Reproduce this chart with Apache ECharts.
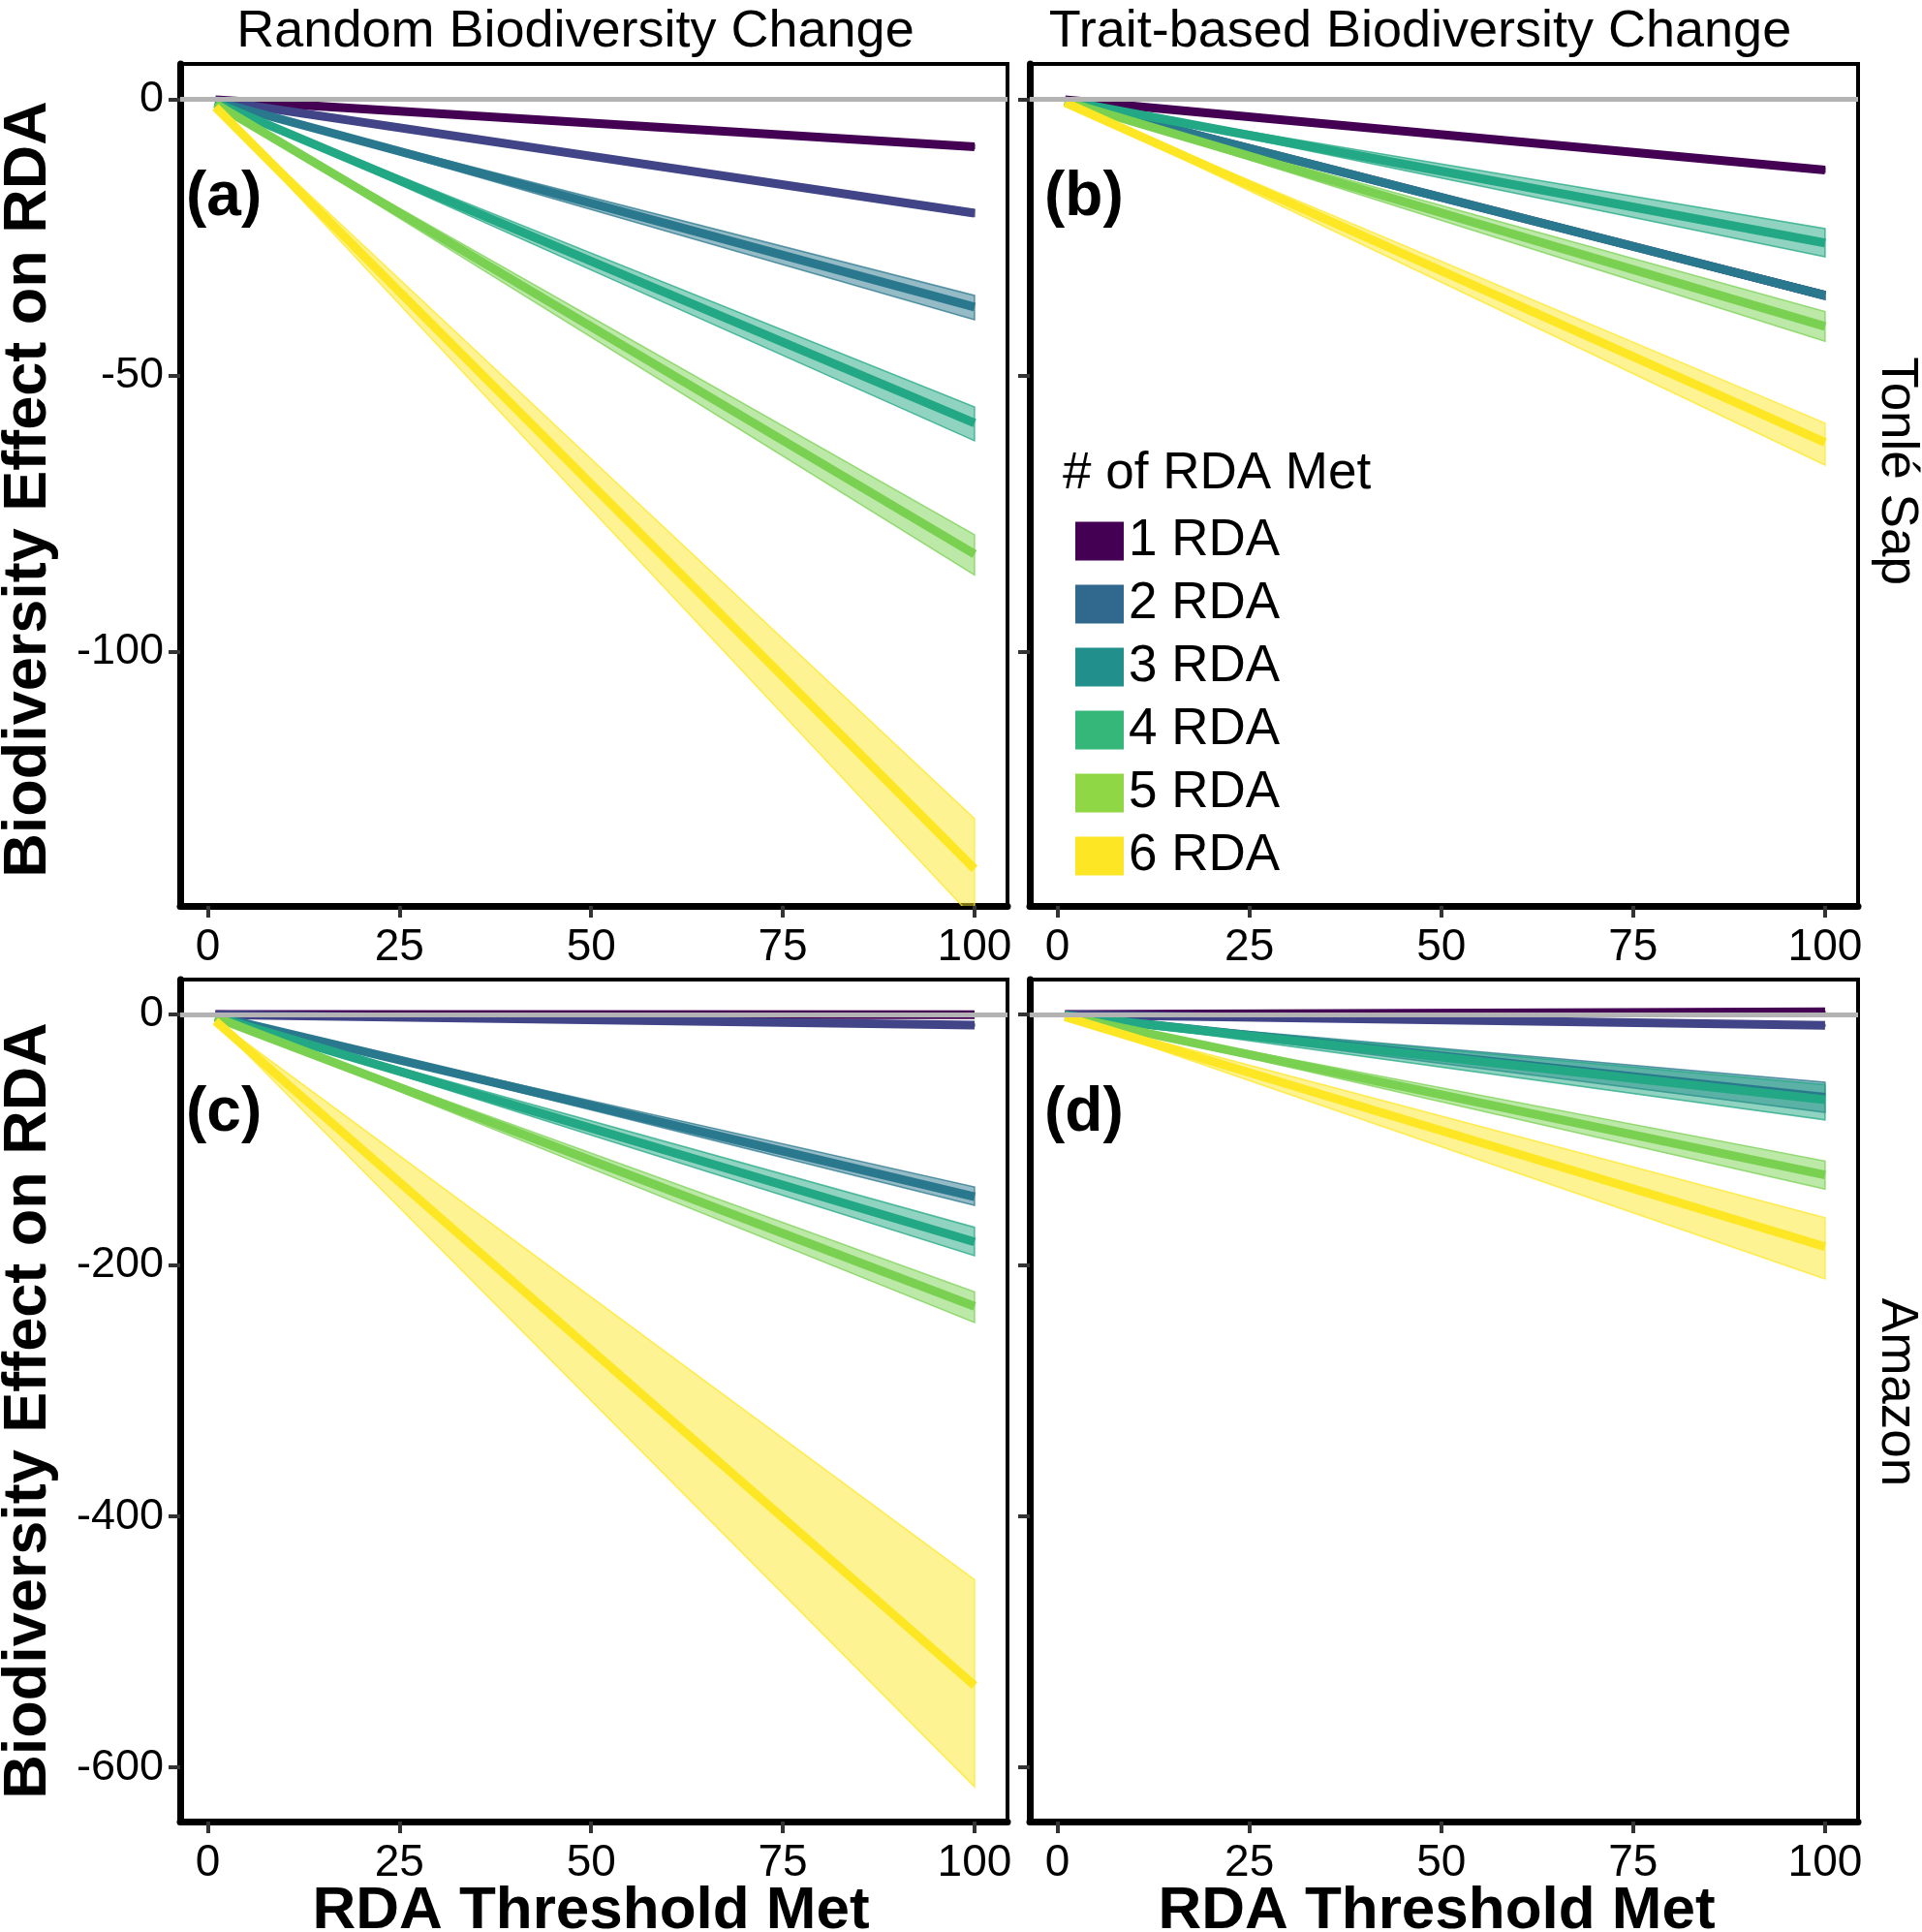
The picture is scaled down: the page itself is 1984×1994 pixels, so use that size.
<!DOCTYPE html>
<html><head><meta charset="utf-8">
<script src="https://cdn.jsdelivr.net/npm/echarts@6/dist/echarts.min.js"></script>
<style>html,body{margin:0;padding:0;background:#fff}#c{width:1984px;height:1994px}</style>
</head><body><div id="c"></div>
<script>
// ---------- data ----------
const seriesNames = ['1 RDA','2 RDA','3 RDA','4 RDA','5 RDA','6 RDA'];
const lineColors = ['#440154','#414487','#2A788E','#22A884','#7AD151','#FDE725'];
const legendColors = ['#440154','#31688E','#21908C','#35B779','#8FD744','#FDE725'];
const xEnds = [1, 100];                 // RDA threshold met at the two ends of each fitted line
const xTicks = [0, 25, 50, 75, 100];
const yTicksTop = [0, -50, -100];
const yTicksBottom = [0, -200, -400, -600];
const colTitles = ['Random Biodiversity Change', 'Trait-based Biodiversity Change'];
const rowTitles = ['Tonlé Sap', 'Amazon'];
const panelLabels = ['(a)', '(b)', '(c)', '(d)'];

// fitted value at x=1 and x=100, per series (1..6 RDA)
const aLine = [[-0.1,-8.6],[-0.2,-20.6],[-0.4,-37.6],[-0.6,-58.6],[-0.8,-82.3],[-1.4,-139.3]];
const bLine = [[-0.1,-12.8],[-0.35,-35.5],[-0.35,-35.5],[-0.26,-26.0],[-0.4,-41.1],[-0.6,-62.1]];
const cLine = [[0,-0.2],[-0.1,-8.5],[-1.45,-145.2],[-1.8,-181.2],[-2.3,-232.6],[-5.3,-534.8]];
const dLine = [[0,2.1],[-0.1,-8.6],[-0.7,-66.0],[-0.7,-68.0],[-1.3,-127.9],[-1.9,-185.1]];
// confidence band: [low at x=1, high at x=1, low at x=100, high at x=100]
const aBand = [[-0.1,-0.1,-8.9,-8.3],[-0.2,-0.2,-21.2,-20.0],[-0.4,-0.35,-39.9,-35.5],[-0.6,-0.55,-61.8,-55.7],[-0.85,-0.8,-86.1,-78.8],[-1.5,-1.3,-148.4,-130.2]];
const bBand = [[-0.1,-0.1,-13.2,-12.4],[-0.36,-0.34,-36.2,-34.8],[-0.36,-0.34,-36.2,-34.8],[-0.28,-0.23,-28.5,-23.4],[-0.43,-0.38,-43.8,-38.4],[-0.66,-0.58,-66.2,-58.6]];
const cBand = [[0,0,-0.6,0.2],[-0.1,-0.1,-9.2,-7.8],[-1.5,-1.4,-152.1,-137.4],[-1.9,-1.7,-192.2,-169.6],[-2.4,-2.2,-245.5,-221.1],[-6.1,-4.5,-615.4,-450.4]];
const dBand = [[0,0,1.8,2.4],[-0.1,-0.1,-9.2,-8.0],[-0.8,-0.55,-78.0,-54.0],[-0.85,-0.55,-84.0,-56.0],[-1.4,-1.2,-139.2,-116.8],[-2.1,-1.6,-210.8,-161.9]];

// ---------- layout ----------
const FONT = '"Liberation Sans", Arial, sans-serif';
const grids = [
  {left:186, top:66, width:854, height:869},
  {left:1063, top:66, width:855, height:869},
  {left:186, top:1011, width:854, height:869},
  {left:1063, top:1011, width:855, height:869}
];
const xRange = [-3.6, 104.3];
const yRangeTop = [-146.0, 6.4];
const yRangeBottom = [-643.1, 27.8];

function hexA(hex, a){
  const n = parseInt(hex.slice(1),16);
  return 'rgba('+((n>>16)&255)+','+((n>>8)&255)+','+(n&255)+','+a+')';
}

const xAxes = grids.map((g,i)=>({
  type:'value', gridIndex:i, min:xRange[0], max:xRange[1],
  axisLine:{show:true, onZero:false, lineStyle:{color:'#000', width:7}},
  axisTick:{show:true, customValues:xTicks, length:12, lineStyle:{color:'#333', width:4}},
  axisLabel:{show:true, customValues:xTicks, fontSize:46, color:'#000', fontFamily:FONT, margin:20},
  splitLine:{show:false}
}));
const yAxes = grids.map((g,i)=>{
  const top = i < 2;
  const ticks = top ? yTicksTop : yTicksBottom;
  const rng = top ? yRangeTop : yRangeBottom;
  return {
    type:'value', gridIndex:i, min:rng[0], max:rng[1],
    axisLine:{show:true, onZero:false, lineStyle:{color:'#000', width:7}},
    axisTick:{show:true, customValues:ticks, length:12, lineStyle:{color:'#333', width:4}},
    axisLabel:{show: i % 2 === 0, customValues:ticks, fontSize:45, color:'#000', fontFamily:FONT, margin:17},
    splitLine:{show:false}
  };
});

const panelLines = [aLine, bLine, cLine, dLine];
const panelBands = [aBand, bBand, cBand, dBand];
const series = [];
grids.forEach((g,gi)=>{
  // zero reference line
  series.push({
    type:'line', name:'zero'+gi, xAxisIndex:gi, yAxisIndex:gi, data:[], z:1, silent:true,
    markLine:{silent:true, symbol:'none', label:{show:false}, animation:false,
      lineStyle:{color:'#b3b3b3', width:5, type:'solid'}, data:[{yAxis:0}]}
  });
  panelBands[gi].forEach((b,si)=>{
    const col = lineColors[si];
    series.push({
      type:'custom', name:seriesNames[si]+' band '+gi, xAxisIndex:gi, yAxisIndex:gi, z:2, silent:true,
      data:[[xEnds[0], b[0], b[1], xEnds[1], b[2], b[3]]],
      encode:{x:[0,3], y:[1,2,4,5]},
      renderItem:function(params, api){
        const p1 = api.coord([api.value(0), api.value(1)]);
        const p2 = api.coord([api.value(3), api.value(4)]);
        const p3 = api.coord([api.value(3), api.value(5)]);
        const p4 = api.coord([api.value(0), api.value(2)]);
        const cs = params.coordSys;
        return {type:'polygon', shape:{points:[p1,p2,p3,p4]},
          style:{fill:hexA(col,0.5), stroke:hexA(col,0.75), lineWidth:1.5},
          clipPath:{type:'rect', shape:{x:cs.x, y:cs.y, width:cs.width, height:cs.height}}};
      }
    });
  });
  panelLines[gi].forEach((l,si)=>{
    series.push({
      type:'line', name:seriesNames[si], xAxisIndex:gi, yAxisIndex:gi, z:3, silent:true,
      data:[[xEnds[0], l[0]], [xEnds[1], l[1]]],
      symbol:'none', clip:true,
      lineStyle:{width:9, color:lineColors[si], cap:'butt'},
      itemStyle:{color:lineColors[si]}
    });
  });
});

const graphics = [];
const txt = (text, x, y, size, weight, rot, align) => ({
  type:'text', x:x, y:y, rotation:rot||0, silent:true, z:10,
  style:{text:text, fontSize:size, fontWeight:weight||'normal', fontFamily:FONT, fill:'#000',
    align:align||'center', verticalAlign:'middle'}
});
graphics.push(txt(colTitles[0], 594, 33, 54));
graphics.push(txt(colTitles[1], 1466, 33, 54));
graphics.push(txt(rowTitles[0], 1958, 486, 53, 'normal', -Math.PI/2));
graphics.push(txt(rowTitles[1], 1958, 1437, 53, 'normal', -Math.PI/2));
graphics.push(txt('Biodiversity Effect on RDA', 30, 505, 63, 'bold', Math.PI/2));
graphics.push(txt('Biodiversity Effect on RDA', 30, 1456, 63, 'bold', Math.PI/2));
graphics.push(txt('RDA Threshold Met', 610, 1973, 62, 'bold'));
graphics.push(txt('RDA Threshold Met', 1483, 1973, 62, 'bold'));
graphics.push(txt(panelLabels[0], 192, 204, 64, 'bold', 0, 'left'));
graphics.push(txt(panelLabels[1], 1078, 204, 64, 'bold', 0, 'left'));
graphics.push(txt(panelLabels[2], 192, 1149, 64, 'bold', 0, 'left'));
graphics.push(txt(panelLabels[3], 1078, 1149, 64, 'bold', 0, 'left'));
graphics.push(txt('# of RDA Met', 1097, 489, 53, 'normal', 0, 'left'));

const chart = echarts.init(document.getElementById('c'), null, {renderer:'canvas'});
chart.setOption({
  animation:false,
  backgroundColor:'#fff',
  grid: grids.map(g=>Object.assign({show:true, borderColor:'#000', borderWidth:4, backgroundColor:'transparent', containLabel:false}, g)),
  xAxis: xAxes,
  yAxis: yAxes,
  legend:{
    orient:'vertical', left:1105, top:527, itemWidth:50, itemHeight:40, itemGap:12, icon:'rect',
    selectedMode:false, textStyle:{fontSize:53, color:'#000', fontFamily:FONT, padding:[0,0,0,0]},
    data: seriesNames.map((n,i)=>({name:n, itemStyle:{color:legendColors[i]}}))
  },
  graphic: graphics,
  series: series
});
</script>
</body></html>
